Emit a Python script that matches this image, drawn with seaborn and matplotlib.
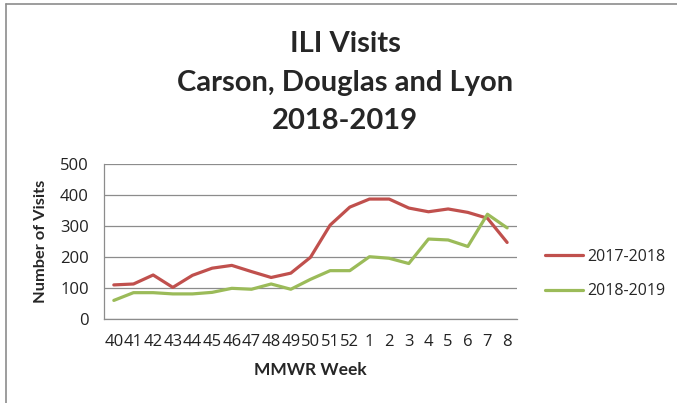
import seaborn as sns
import matplotlib.pyplot as plt
import pandas as pd
from matplotlib.lines import Line2D

# MMWR weeks, season 40 -> 8
weeks = ["40", "41", "42", "43", "44", "45", "46", "47", "48", "49", "50",
         "51", "52", "1", "2", "3", "4", "5", "6", "7", "8"]
visits_2017_2018 = [110, 113, 142, 102, 141, 164, 173, 153, 134, 148, 199,
                    303, 361, 387, 387, 358, 346, 355, 344, 325, 247]
visits_2018_2019 = [60, 85, 85, 81, 81, 86, 99, 96, 113, 96, 128,
                    156, 156, 201, 196, 179, 258, 255, 234, 338, 294]
seasons = ["2017-2018", "2018-2019"]
colors = ["#C0504D", "#9BBB59"]

df = pd.DataFrame({
    "week": weeks * 2,
    "visits": visits_2017_2018 + visits_2018_2019,
    "season": [seasons[0]] * len(weeks) + [seasons[1]] * len(weeks),
})
df["week"] = pd.Categorical(df["week"], categories=weeks, ordered=True)
df["pos"] = df["week"].cat.codes

sns.set_style("white")
plt.rcParams["font.family"] = ["Open Sans", "DejaVu Sans"]

fig = plt.figure(figsize=(6.77, 4.03), dpi=100)
ax = fig.add_axes([0.1536, 0.2084, 0.61, 0.3846])

sns.lineplot(data=df, x="pos", y="visits", hue="season", palette=colors,
             linewidth=2.3, sort=False, ax=ax)

ax.set_xlim(-0.5, len(weeks) - 0.5)
ax.set_ylim(0, 500)
ax.set_yticks(range(0, 501, 100))
ax.set_xticks(range(len(weeks)))
ax.set_xticklabels(weeks)
ax.tick_params(axis="both", labelsize=12, colors="#222222", length=0)
ax.tick_params(axis="x", pad=11)
ax.tick_params(axis="y", pad=11)
ax.grid(axis="y", color="#8c8c8c", linewidth=0.9)
ax.set_axisbelow(True)
for side in ["top", "right"]:
    ax.spines[side].set_visible(False)
for side in ["left", "bottom"]:
    ax.spines[side].set_color("#8c8c8c")
    ax.spines[side].set_linewidth(0.9)

ax.set_xlabel("MMWR Week", fontsize=12.5, fontweight="bold", family="Lato")
ax.set_ylabel("Number of Visits", fontsize=11.8, fontweight="bold", family="Lato")
ax.xaxis.set_label_coords(0.5, -0.275)
ax.yaxis.set_label_coords(-0.135, 0.5)

ax.legend(loc="center left", bbox_to_anchor=(1.068, 0.29), frameon=False,
          fontsize=11.5, handlelength=2.4, labelspacing=1.15,
          handletextpad=0.25, borderpad=0, borderaxespad=0)

fig.text(0.51, 0.795, "ILI Visits\nCarson, Douglas and Lyon\n2018-2019",
         ha="center", va="center", fontsize=21, fontweight="bold",
         family="Lato", linespacing=1.6)

# chart border (left and top edges visible)
fig.add_artist(Line2D([0.009, 0.009], [0, 0.99], color="#8c8c8c", lw=1.2))
fig.add_artist(Line2D([0.009, 1.0], [0.99, 0.99], color="#8c8c8c", lw=1.2))

fig.savefig("out.png", dpi=100)
